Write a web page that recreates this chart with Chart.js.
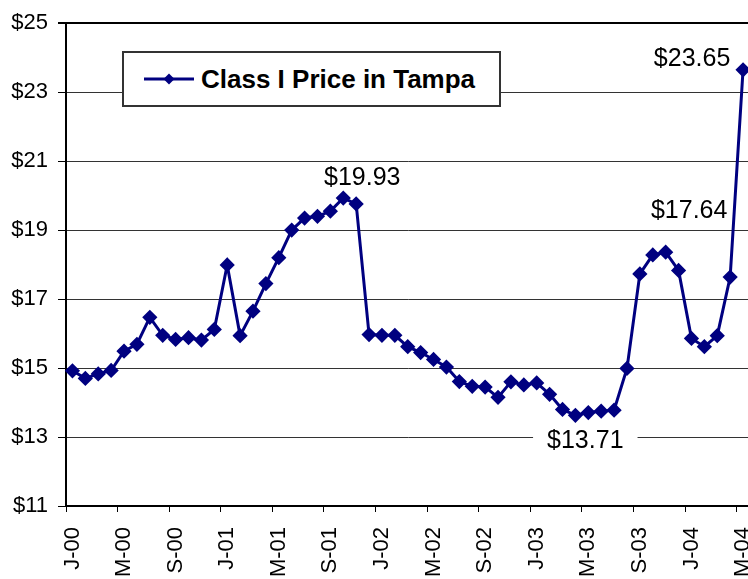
<!DOCTYPE html>
<html>
<head>
<meta charset="utf-8">
<script src="https://cdn.jsdelivr.net/npm/chart.js@4/dist/chart.umd.min.js"></script>
<style>
  html, body { margin: 0; padding: 0; background: #fff; overflow: hidden; }
  #wrap { position: relative; width: 748px; height: 579px; overflow: hidden; }
  #legend {
    position: absolute; left: 122px; top: 51px; width: 379px; height: 56px;
    box-sizing: border-box; border: 2px solid #333; background: #fff;
    font-family: 'Liberation Sans', Arial, sans-serif; font-weight: bold; font-size: 26px;
    color: #000; display: flex; align-items: center;
  }
  #legend svg { margin-left: 19px; margin-right: 6px; }
</style>
</head>
<body>
<div id="wrap">
  <canvas id="myChart" width="758" height="579"></canvas>
  <div id="legend">
    <svg width="52" height="14"><line x1="1" y1="7" x2="51" y2="7" stroke="#000080" stroke-width="3"/><polygon points="26,1.5 31.5,7 26,12.5 20.5,7" fill="#000080"/></svg>
    <span>Class I Price in Tampa</span>
  </div>
</div>
<script>
// monthly categories, Jan 2000 - May 2004
const months = [
  'J-00','F-00','M-00','A-00','M-00','J-00','J-00','A-00','S-00','O-00','N-00','D-00',
  'J-01','F-01','M-01','A-01','M-01','J-01','J-01','A-01','S-01','O-01','N-01','D-01',
  'J-02','F-02','M-02','A-02','M-02','J-02','J-02','A-02','S-02','O-02','N-02','D-02',
  'J-03','F-03','M-03','A-03','M-03','J-03','J-03','A-03','S-03','O-03','N-03','D-03',
  'J-04','F-04','M-04','A-04','M-04'
];
const prices = [
  14.92,14.70,14.83,14.93,15.49,15.69,16.47,15.95,15.83,15.88,15.81,16.12,
  17.99,15.94,16.65,17.45,18.20,19.00,19.35,19.40,19.55,19.93,19.76,15.97,
  15.95,15.95,15.62,15.45,15.25,15.03,14.61,14.47,14.45,14.15,14.60,14.51,
  14.57,14.24,13.80,13.63,13.71,13.75,13.78,14.99,17.73,18.28,18.36,17.83,
  15.86,15.62,15.94,17.64,23.65
];
const yTicks = [11, 13, 15, 17, 19, 21, 23, 25];
const labelledPoints = [21, 40, 51, 52];

const font = "'Liberation Sans', Arial, sans-serif";

// where each value label sits relative to its point
const labelOffsets = { 21: [19, -20, false], 40: [-3, 29, true], 51: [-41, -66, false], 52: [-51, -11, false] };

const valueLabels = {
  id: 'valueLabels',
  afterDatasetsDraw(chart) {
    const ctx = chart.ctx;
    const xs = chart.scales.x, ys = chart.scales.y;
    ctx.save();
    ctx.font = '25px ' + font;
    ctx.textAlign = 'center';
    ctx.textBaseline = 'middle';
    labelledPoints.forEach(i => {
      const off = labelOffsets[i];
      const x = xs.getPixelForValue(i) + off[0];
      const y = ys.getPixelForValue(prices[i]) + off[1];
      const txt = '$' + prices[i].toFixed(2);
      if (off[2]) {
        const w = ctx.measureText(txt).width + 28;
        ctx.fillStyle = '#fff';
        ctx.fillRect(x - w / 2, y - 13, w, 26);
      }
      ctx.fillStyle = '#000';
      ctx.fillText(txt, x, y);
    });
    ctx.restore();
  }
};

new Chart(document.getElementById('myChart'), {
  type: 'line',
  data: {
    labels: months,
    datasets: [{
      label: 'Class I Price in Tampa',
      data: prices,
      borderColor: '#000080',
      backgroundColor: '#000080',
      borderWidth: 3,
      pointStyle: 'rectRot',
      pointRadius: 5.5,
      pointHoverRadius: 5.5,
      tension: 0,
      clip: false
    }]
  },
  options: {
    responsive: false,
    animation: false,
    layout: { padding: { top: 20, right: 0, left: 0, bottom: 0 } },
    plugins: { legend: { display: false }, tooltip: { enabled: false } },
    scales: {
      x: {
        type: 'category',
        offset: true,
        afterFit(scale) {
          scale.height = 73;
          scale.paddingLeft = 0;
          scale.paddingRight = 0;
        },
        grid: {
          offset: true,
          drawOnChartArea: false,
          drawTicks: true,
          tickLength: 6,
          tickColor: c => (c.index % 4 === 0 ? '#000' : 'rgba(0,0,0,0)'),
          tickWidth: 1
        },
        border: { color: '#000', width: 2 },
        ticks: {
          autoSkip: false,
          minRotation: 90,
          maxRotation: 90,
          padding: 15,
          color: '#000',
          font: { family: font, size: 22 },
          callback(value, index) { return index % 4 === 0 ? this.getLabelForValue(value) : ''; }
        }
      },
      y: {
        min: 11,
        max: 25,
        afterFit(scale) { scale.width = 66; },
        afterBuildTicks(scale) { scale.ticks = yTicks.map(v => ({ value: v })); },
        grid: {
          color: c => (c.tick && c.tick.value === 25 ? '#000' : '#333'),
          lineWidth: c => (c.tick && c.tick.value === 25 ? 2 : 1),
          tickColor: '#000',
          tickLength: 8
        },
        border: { color: '#000', width: 2 },
        ticks: {
          padding: 10,
          color: '#000',
          font: { family: font, size: 22 },
          callback: v => '$' + v
        }
      }
    }
  },
  plugins: [valueLabels]
});
</script>
</body>
</html>
